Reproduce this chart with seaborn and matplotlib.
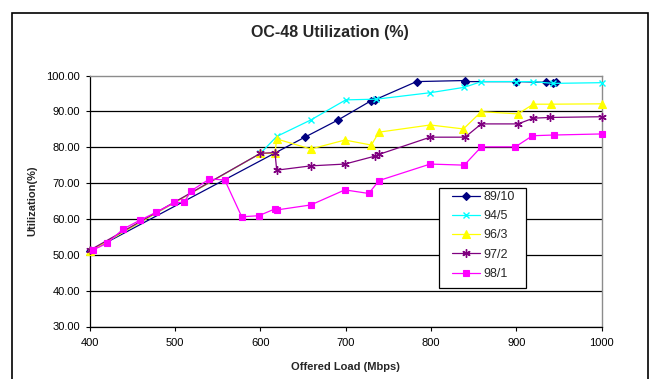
import matplotlib
matplotlib.use("Agg")
import matplotlib.pyplot as plt
import seaborn as sns
from matplotlib.patches import Rectangle
from matplotlib.ticker import StrMethodFormatter, FixedLocator

# ---------------- data ----------------
labels = ["89/10", "94/5", "96/3", "97/2", "98/1"]

x_89_10 = [400, 652, 691, 730, 734, 783, 840, 840, 900, 935, 943, 947]
y_89_10 = [51.0, 82.8, 87.6, 93.0, 93.2, 98.3, 98.6, 98.3, 98.3, 98.1, 97.8, 98.1]

x_94_5 = [400, 600, 619, 659, 700, 736, 799, 839, 859, 900, 920, 943, 1000]
y_94_5 = [51.0, 78.3, 83.0, 87.6, 93.2, 93.4, 95.2, 96.7, 98.3, 98.3, 98.3, 97.8, 98.0]

x_96_3 = [400, 600, 617, 619, 659, 699, 730, 739, 799, 838, 859, 902, 920, 941, 1000]
y_96_3 = [51.0, 78.3, 78.3, 82.3, 79.5, 82.0, 80.6, 84.2, 86.2, 85.1, 89.9, 89.3, 92.0, 92.0, 92.1]

x_97_2 = [400, 600, 617, 619, 659, 699, 734, 739, 799, 840, 859, 902, 920, 940, 1000]
y_97_2 = [51.3, 78.3, 78.5, 73.6, 74.8, 75.3, 77.5, 78.0, 82.8, 82.8, 86.5, 86.5, 88.1, 88.3, 88.5]

x_98_1 = [403, 420, 439, 459, 478, 499, 510, 519, 540, 558, 578, 598, 617, 619,
          659, 699, 727, 739, 799, 839, 859, 899, 919, 944, 1000]
y_98_1 = [51.3, 53.2, 57.2, 59.7, 61.9, 64.6, 64.6, 67.9, 71.1, 70.9, 60.6, 60.9, 62.8, 62.5,
          63.9, 68.1, 67.1, 70.7, 75.3, 75.0, 80.1, 80.1, 83.2, 83.4, 83.7]

x_ticks = [400, 500, 600, 700, 800, 900, 1000]
y_ticks = [30, 40, 50, 60, 70, 80, 90, 100]

title = "OC-48 Utilization (%)"
x_label = "Offered Load (Mbps)"
y_label = "Utilization(%)"

# ---------------- styling ----------------
sns.set_theme(style="white")
plt.rcParams["font.family"] = ["Liberation Sans", "DejaVu Sans"]

W, H = 653, 379
fig = plt.figure(figsize=(W / 100, H / 100), dpi=100)
fig.patch.set_facecolor("white")

L, R, T, B = 90, 601.5, 75.5, 326.5
ax = fig.add_axes([L / W, 1 - B / H, (R - L) / W, (B - T) / H])
ax.set_facecolor("white")

series = [
    (labels[0], x_89_10, y_89_10, "#000080", "D", 4.2, 0.8),
    (labels[1], x_94_5, y_94_5, "#00FFFF", "x", 5.0, 1.0),
    (labels[2], x_96_3, y_96_3, "#FFFF00", "^", 5.5, 0.8),
    (labels[3], x_97_2, y_97_2, "#800080", (6, 2, 0), 6.0, 1.0),
    (labels[4], x_98_1, y_98_1, "#FF00FF", "s", 4.5, 0.8),
]

for lab, xs, ys, col, mk, ms, mew in series:
    sns.lineplot(x=xs, y=ys, ax=ax, color=col, marker=mk, markersize=ms,
                 markeredgecolor=col, markerfacecolor=col, markeredgewidth=mew,
                 linewidth=0.9, estimator=None, sort=False, label=lab,
                 clip_on=False, zorder=3)

ax.set_xlim(400, 1000)
ax.set_ylim(30, 100)
ax.xaxis.set_major_locator(FixedLocator(x_ticks))
ax.yaxis.set_major_locator(FixedLocator(y_ticks))
ax.yaxis.set_major_formatter(StrMethodFormatter("{x:.2f}"))
ax.tick_params(axis="both", labelsize=8, colors="black", direction="out",
               length=3, width=0.8)
ax.tick_params(axis="x", pad=5)
ax.tick_params(axis="y", pad=4)
ax.tick_params(bottom=True, left=True)
ax.set_xlabel("")
ax.set_ylabel("")

ax.yaxis.grid(True, color="black", linewidth=0.9)
ax.set_axisbelow(True)
ax.get_ygridlines()[-1].set_visible(False)

for s in ["left", "bottom"]:
    ax.spines[s].set_color("black")
    ax.spines[s].set_linewidth(0.9)
for s in ["top", "right"]:
    ax.spines[s].set_color("#8c8c8c")
    ax.spines[s].set_linewidth(1.0)

# legend with a square black frame
ax.add_patch(Rectangle((439 / W, 1 - 288 / H), 87 / W, 100 / H,
                       transform=fig.transFigure, facecolor="white",
                       edgecolor="black", linewidth=0.9, zorder=4.5,
                       clip_on=False))
leg = ax.legend(loc="upper left", bbox_to_anchor=(452 / W, 1 - 191 / H),
                bbox_transform=fig.transFigure, frameon=False, fontsize=9,
                handlelength=2.2, handletextpad=0.3, labelspacing=0.58,
                borderpad=0, borderaxespad=0)
leg.set_zorder(5)

# texts
fig.text(329.5 / W, 1 - 32 / H, title, ha="center", va="center",
         fontsize=11.5, fontweight="bold")
fig.text((L + R) / 2 / W, 1 - 367 / H, x_label, ha="center", va="center",
         fontsize=8, fontweight="bold")
fig.text(32 / W, 1 - 201 / H, y_label, ha="center", va="center",
         rotation=90, fontsize=8, fontweight="bold")

# outer chart border
fig.patches.append(Rectangle((11.7 / W, -0.05), (648 - 11.7) / W, 1.05 - 13.5 / H,
                             transform=fig.transFigure, fill=False,
                             edgecolor="black", linewidth=1.2))

fig.savefig("out.png", dpi=100)
